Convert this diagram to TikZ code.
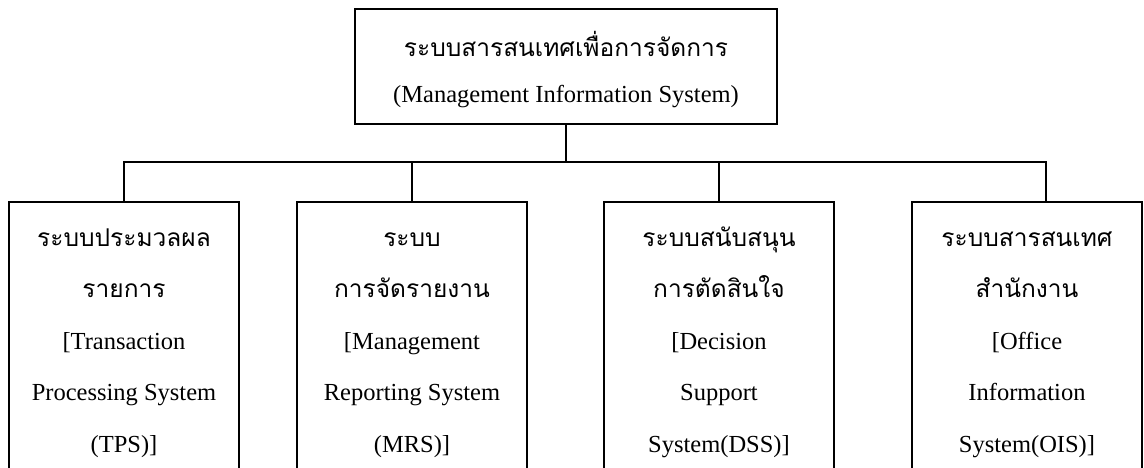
\documentclass[tikz,border=0pt]{standalone}
\usepackage{fontspec}
\setmainfont{Liberation Serif}
\newfontfamily\thaifont[Script=Thai]{Loma}
\usetikzlibrary{positioning}

\newcommand{\firstline}{\rule{0pt}{26pt}}

\tikzset{
  sysbox/.style={draw, line width=1.8pt, minimum width=230pt, minimum height=300pt, anchor=north, inner sep=0pt},
  topbox/.style={draw, line width=1.8pt, minimum width=422pt, minimum height=115pt, anchor=north, inner sep=0pt},
  systext/.style={align=center, anchor=north, inner sep=0pt, font={\fontsize{24.5}{51.5}\selectfont}},
  toptext/.style={align=center, anchor=north, inner sep=0pt, font={\fontsize{24.5}{46}\selectfont}},
  link/.style={line width=1.8pt}
}

\begin{document}
\begin{tikzpicture}[x=1pt,y=-1pt]
  \useasboundingbox (0,0) rectangle (1144,468);
  \clip (0,0) rectangle (1144,468);

  % top
  \node[topbox] (mis) at (566,8) {};
  \node[toptext] (mistext) at ([yshift=-22pt]mis.north)
    {\firstline{\thaifont ระบบสารสนเทศเพื่อการจัดการ}\\(Management Information System)};

  % subsystems
  \node[sysbox] (tps) at (124,201) {};
  \node[sysbox] (mrs) at (412,201) {};
  \node[sysbox] (dss) at (719,201) {};
  \node[sysbox] (ois) at (1027,201) {};

  \node[systext] (tpstext) at ([yshift=-19pt]tps.north)
    {\firstline{\thaifont ระบบประมวลผล}\\{\thaifont รายการ}\\{}[Transaction\\Processing System\\(TPS)]};
  \node[systext] (mrstext) at ([yshift=-19pt]mrs.north)
    {\firstline{\thaifont ระบบ}\\{\thaifont การจัดรายงาน}\\{}[Management\\Reporting System\\(MRS)]};
  \node[systext] (dsstext) at ([yshift=-19pt]dss.north)
    {\firstline{\thaifont ระบบสนับสนุน}\\{\thaifont การตัดสินใจ}\\{}[Decision\\Support\\System(DSS)]};
  \node[systext] (oistext) at ([yshift=-19pt]ois.north)
    {\firstline{\thaifont ระบบสารสนเทศ}\\{\thaifont สำนักงาน}\\{}[Office\\Information\\System(OIS)]};

  % connectors
  \coordinate (hub) at (566,162);
  \coordinate (oisdrop) at ([xshift=19pt]ois.north);
  \draw[link] (mis.south) -- (hub);
  \draw[link] (tps.north) -- (tps.north |- hub) -- (oisdrop |- hub) -- (oisdrop);
  \draw[link] (mrs.north) -- (mrs.north |- hub);
  \draw[link] (dss.north) -- (dss.north |- hub);
\end{tikzpicture}
\end{document}
